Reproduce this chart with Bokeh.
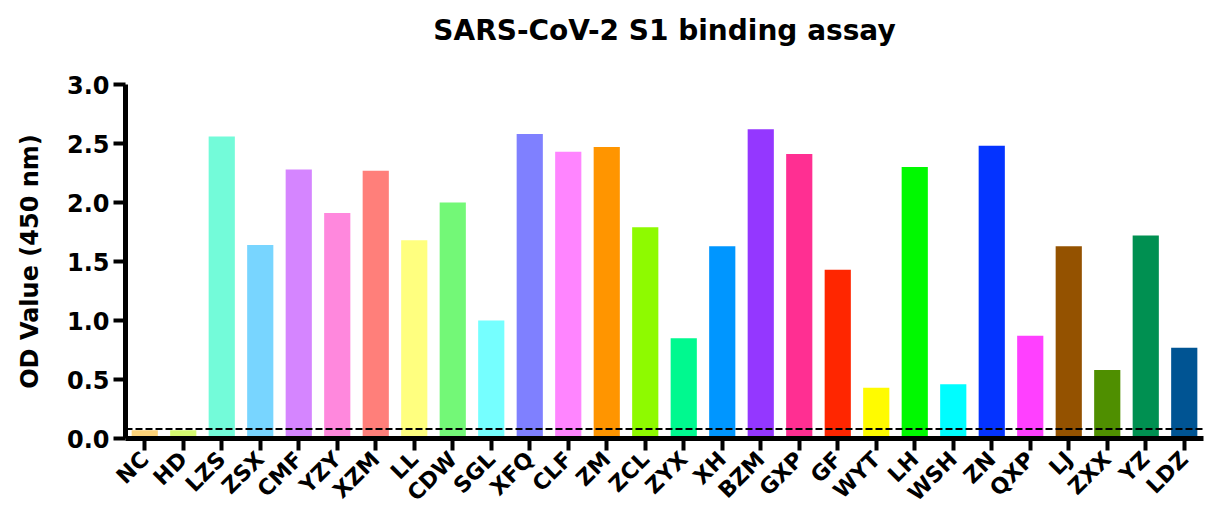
import math
from bokeh.plotting import figure
from bokeh.models import Span, FactorRange, Range1d, CustomJSTickFormatter, Title
from bokeh.embed import file_html
from bokeh.resources import INLINE

samples = ["NC", "HD", "LZS", "ZSX", "CMF", "YZY", "XZM", "LL", "CDW", "SGL", "XFQ", "CLF",
           "ZM", "ZCL", "ZYX", "XH", "BZM", "GXP", "GF", "WYT", "LH", "WSH", "ZN", "QXP",
           "LJ", "ZXX", "YZ", "LDZ"]
od_values = [0.07, 0.07, 2.56, 1.64, 2.28, 1.91, 2.27, 1.68, 2.00, 1.00, 2.58, 2.43,
             2.47, 1.79, 0.85, 1.63, 2.62, 2.41, 1.43, 0.43, 2.30, 0.46, 2.48, 0.87,
             1.63, 0.58, 1.72, 0.77]
bar_colors = ["#FFD47A", "#D4F870", "#73FBD9", "#78D5FF", "#D585FF", "#FF88DD", "#FF7F7A",
              "#FFFF7F", "#73F877", "#75FFFF", "#7F80FF", "#FF85FF", "#FF9500", "#8EFA00",
              "#00F98F", "#0096FF", "#9437FF", "#FF2F92", "#FF2600", "#FFFB00", "#00F900",
              "#00FDFF", "#0433FF", "#FF40FF", "#945200", "#4F8F00", "#009051", "#005493"]
cutoff = 0.08
y_ticks = [0.0, 0.5, 1.0, 1.5, 2.0, 2.5, 3.0]
title_text = "SARS-CoV-2 S1 binding assay"

FONT = "DejaVu Sans"
W, H = 1208, 519
BL, BR, BT, BB = 125, 5, 84, 81

main_title = Title(text=title_text, align="center", text_font=FONT, text_font_size="28px",
                   text_font_style="bold", text_color="black", standoff=22)
p = figure(width=W, height=H, output_backend="svg", toolbar_location=None,
           x_range=FactorRange(*samples, range_padding=0), y_range=Range1d(0, 3.0),
           title=main_title,
           min_border_left=BL, min_border_right=BR, min_border_top=BT, min_border_bottom=BB)

# spacer between the title and the plot frame
p.add_layout(Title(text=" ", text_font_size="10px", standoff=14, align="center"), "above")

p.vbar(x=samples, top=od_values, width=0.68, fill_color=bar_colors, line_color=None)
p.add_layout(Span(location=cutoff, dimension="width", line_color="black",
                  line_width=2, line_dash="7 3"))

p.grid.visible = False
p.outline_line_color = None

for ax in (p.xaxis, p.yaxis):
    ax.axis_line_width = 5
    ax.axis_line_color = "black"
    ax.major_tick_line_width = 4
    ax.major_tick_line_color = "black"
    ax.major_tick_out = 12
    ax.major_tick_in = 0
    ax.minor_tick_line_color = None
    ax.major_label_text_font = FONT
    ax.major_label_text_font_style = "bold"
    ax.major_label_text_color = "black"

p.yaxis.ticker = y_ticks
p.yaxis.formatter = CustomJSTickFormatter(code="return tick.toFixed(1);")
p.yaxis.major_label_text_font_size = "24px"
p.yaxis.major_label_standoff = 4
p.yaxis.axis_label = "OD Value (450 nm)"
p.yaxis.axis_label_text_font = FONT
p.yaxis.axis_label_text_font_size = "24px"
p.yaxis.axis_label_text_font_style = "bold"
p.yaxis.axis_label_text_color = "black"
p.yaxis.axis_label_standoff = 20

p.xaxis.major_label_orientation = math.pi / 4
p.xaxis.major_label_text_font_size = "22px"
p.xaxis.major_label_standoff = 5

open("out.html", "w").write(file_html(p, INLINE))
